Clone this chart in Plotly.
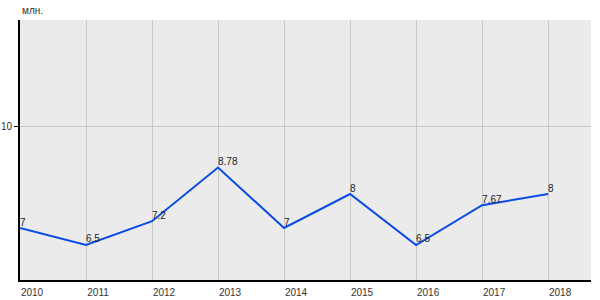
import plotly.graph_objects as go

years = [2010, 2011, 2012, 2013, 2014, 2015, 2016, 2017, 2018]
values = [7, 6.5, 7.2, 8.78, 7, 8, 6.5, 7.67, 8]
labels = ["7", "6.5", "7.2", "8.78", "7", "8", "6.5", "7.67", "8"]
y_ticks = [10]
unit_label = "млн."

fig = go.Figure()
fig.add_trace(go.Scatter(
    x=years, y=values, mode="lines+text",
    text=labels, textposition="top right",
    textfont=dict(family="Liberation Sans, Arial", size=10, color="#222"),
    line=dict(color="#0a4be6", width=2),
    cliponaxis=False,
    hoverinfo="skip",
))

fig.update_layout(
    width=600, height=300,
    margin=dict(l=20, r=9, t=20, b=20),
    paper_bgcolor="white",
    plot_bgcolor="#ebebeb",
    showlegend=False,
    font=dict(family="Liberation Sans, Arial", size=11, color="#333"),
    annotations=[dict(
        text=unit_label, xref="paper", yref="paper", x=0, y=1,
        xanchor="left", yanchor="bottom", yshift=2, showarrow=False,
        font=dict(size=10, color="#333"),
    )],
)
fig.update_xaxes(
    range=[2010, 2018.65], tickvals=years, ticktext=[str(y) for y in years],
    showgrid=True, gridcolor="#c8c8c8", gridwidth=1,
    showline=True, linecolor="black", linewidth=2,
    ticks="", ticklabelshift=12, ticklabelstandoff=2,
    zeroline=False, tickfont=dict(size=10, color="#333"),
    automargin=False,
)
fig.update_yaxes(
    range=[5.47, 13.12], tickvals=y_ticks,
    showgrid=True, gridcolor="#c8c8c8", gridwidth=1,
    showline=True, linecolor="black", linewidth=2,
    ticks="outside", ticklen=4, tickcolor="black",
    zeroline=False, tickfont=dict(size=10, color="#333"),
    automargin=False,
)

fig.write_html("out.html")
